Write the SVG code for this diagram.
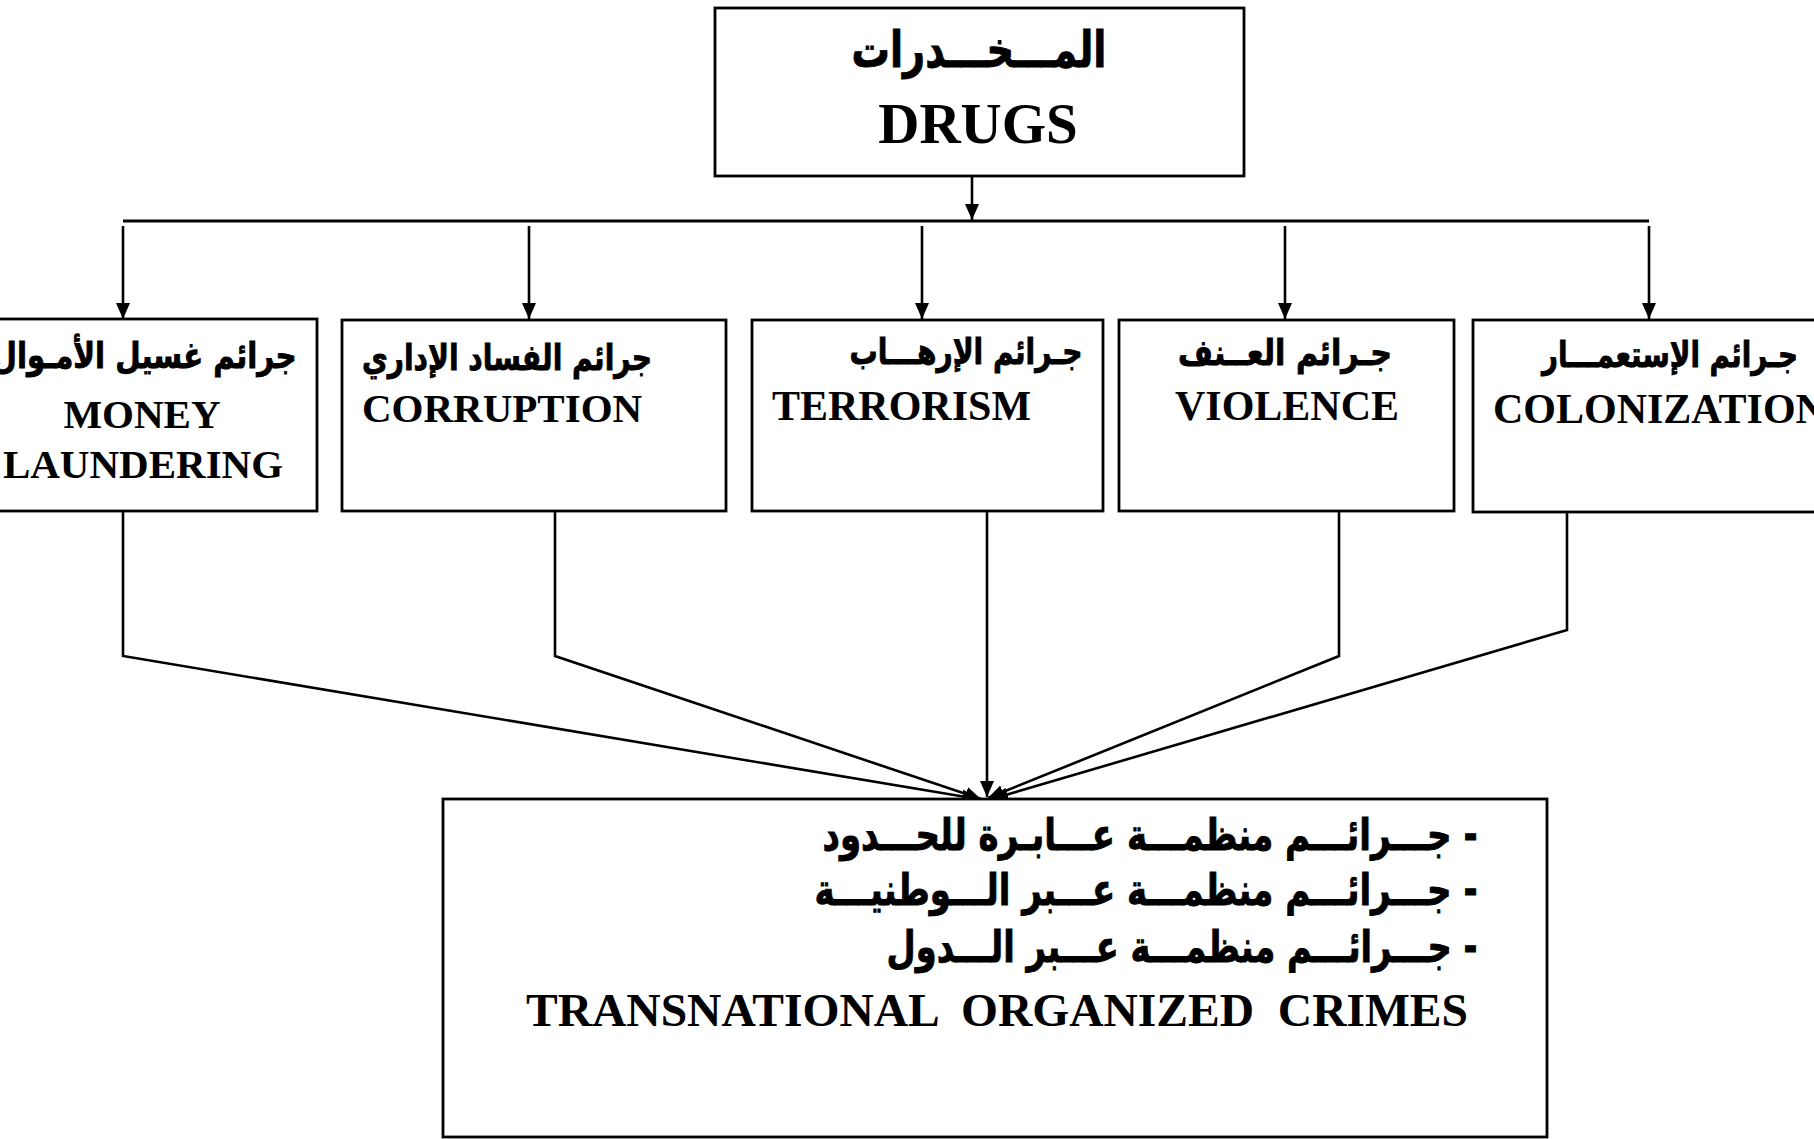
<svg xmlns="http://www.w3.org/2000/svg" width="1814" height="1139" viewBox="0 0 1814 1139">
<style>
.box{fill:#fff;stroke:#000;stroke-width:2.8}
.ln{fill:none;stroke:#000;stroke-width:2.6}
.en{font-family:"Liberation Serif","Times New Roman",serif;font-weight:bold;fill:#000}
.ar{font-family:"DejaVu Sans","Noto Sans",sans-serif;font-weight:bold;fill:#000;stroke:#000;stroke-width:0.9}
</style>
<defs>
<marker id="ah" markerUnits="userSpaceOnUse" markerWidth="17" markerHeight="15" refX="16" refY="7" orient="auto">
<path d="M0,0 L16,7 L0,14 z" fill="#000"/>
</marker>
</defs>
<rect width="1814" height="1139" fill="#fff"/>
<g id="connectors">
<line class="ln" x1="972" y1="176" x2="972" y2="220" marker-end="url(#ah)"/>
<line class="ln" x1="123" y1="221" x2="1649" y2="221" style="stroke-width:3"/>
<line class="ln" x1="123" y1="226" x2="123" y2="319" marker-end="url(#ah)"/>
<line class="ln" x1="529" y1="226" x2="529" y2="319" marker-end="url(#ah)"/>
<line class="ln" x1="922" y1="226" x2="922" y2="319" marker-end="url(#ah)"/>
<line class="ln" x1="1285" y1="226" x2="1285" y2="319" marker-end="url(#ah)"/>
<line class="ln" x1="1649" y1="226" x2="1649" y2="319" marker-end="url(#ah)"/>
<polyline class="ln" points="123,511 123,656 978,799" marker-end="url(#ah)"/>
<polyline class="ln" points="555,511 555,656 981,799" marker-end="url(#ah)"/>
<line class="ln" x1="987" y1="511" x2="987" y2="797" marker-end="url(#ah)"/>
<polyline class="ln" points="1339,511 1339,656 988,798" marker-end="url(#ah)"/>
<polyline class="ln" points="1567,511 1567,630 992,799" marker-end="url(#ah)"/>
</g>
<g id="drugs">
<rect class="box" x="715" y="8" width="529" height="168"/>
<text class="ar" x="979" y="67" font-size="50" text-anchor="middle" direction="rtl" textLength="255" lengthAdjust="spacingAndGlyphs">المـــخـــدرات</text>
<text class="en" x="978" y="143" font-size="57" text-anchor="middle">DRUGS</text>
</g>
<g id="money-laundering">
<rect class="box" x="-35" y="319" width="352" height="192"/>
<text class="ar" x="144" y="368" font-size="36" text-anchor="middle" direction="rtl" textLength="305" lengthAdjust="spacingAndGlyphs">جرائم غسيل الأمـوال</text>
<text class="en" x="142" y="428" font-size="41" text-anchor="middle">MONEY</text>
<text class="en" x="143" y="478" font-size="41" text-anchor="middle">LAUNDERING</text>
</g>
<g id="corruption">
<rect class="box" x="342" y="320" width="384" height="191"/>
<text class="ar" x="507" y="370" font-size="36" text-anchor="middle" direction="rtl" textLength="290" lengthAdjust="spacingAndGlyphs">جرائم الفساد الإداري</text>
<text class="en" x="362" y="422" font-size="41">CORRUPTION</text>
</g>
<g id="terrorism">
<rect class="box" x="752" y="320" width="351" height="191"/>
<text class="ar" x="966" y="364" font-size="36" text-anchor="middle" direction="rtl" textLength="233" lengthAdjust="spacingAndGlyphs">جـرائم الإرهـــاب</text>
<text class="en" x="772" y="420" font-size="42">TERRORISM</text>
</g>
<g id="violence">
<rect class="box" x="1119" y="320" width="335" height="191"/>
<text class="ar" x="1285" y="365" font-size="36" text-anchor="middle" direction="rtl" textLength="214" lengthAdjust="spacingAndGlyphs">جـرائم العــنف</text>
<text class="en" x="1175" y="420" font-size="42">VIOLENCE</text>
</g>
<g id="colonization">
<rect class="box" x="1473" y="320" width="400" height="192"/>
<text class="ar" x="1670" y="367" font-size="36" text-anchor="middle" direction="rtl" textLength="256" lengthAdjust="spacingAndGlyphs">جـرائم الإستعمـــار</text>
<text class="en" x="1493" y="423" font-size="42">COLONIZATION</text>
</g>
<g id="transnational-organized-crimes">
<rect class="box" x="443" y="799" width="1104" height="338"/>
<text class="ar" x="1150" y="850" font-size="44" text-anchor="middle" direction="rtl" textLength="655" lengthAdjust="spacingAndGlyphs">- جـــرائـــم منظمـــة عـــابـرة للحـــدود</text>
<text class="ar" x="1146" y="905" font-size="44" text-anchor="middle" direction="rtl" textLength="663" lengthAdjust="spacingAndGlyphs">- جـــرائـــم منظمـــة عـــبر الـــوطنيـــة</text>
<text class="ar" x="1182" y="962" font-size="44" text-anchor="middle" direction="rtl" textLength="591" lengthAdjust="spacingAndGlyphs">- جـــرائـــم منظمـــة عـــبر الـــدول</text>
<text class="en" x="526" y="1026" font-size="47" xml:space="preserve" textLength="942" lengthAdjust="spacingAndGlyphs">TRANSNATIONAL  ORGANIZED  CRIMES</text>
</g>
</svg>
